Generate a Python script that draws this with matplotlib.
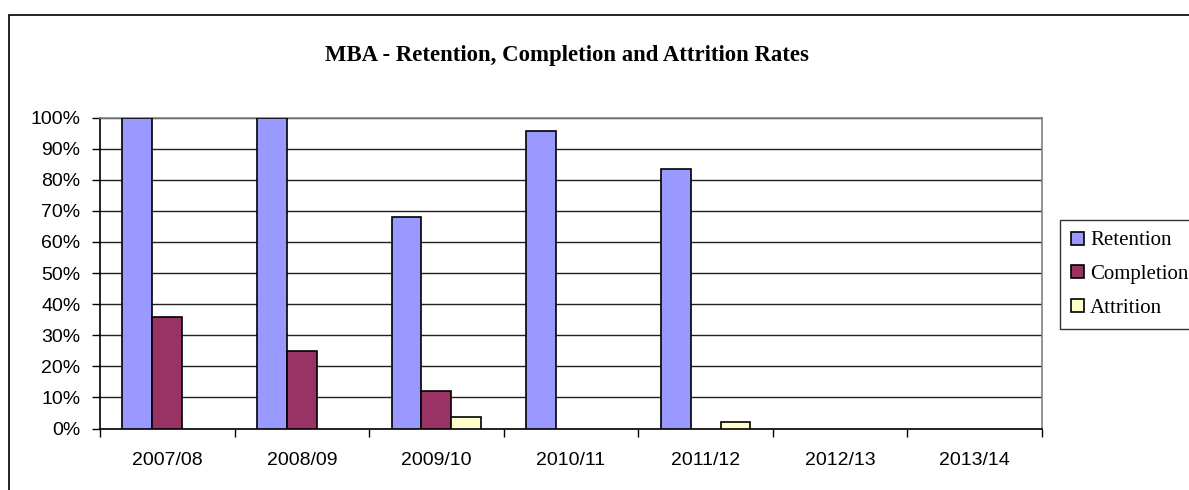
import matplotlib
matplotlib.use("Agg")
import matplotlib.pyplot as plt
import numpy as np
from matplotlib.patches import Rectangle, Patch
from matplotlib.ticker import FixedLocator, PercentFormatter

categories = ["2007/08", "2008/09", "2009/10", "2010/11", "2011/12", "2012/13", "2013/14"]
retention = [100, 100, 68, 95.6, 83.4, 0, 0]
completion = [36, 25, 12, 0, 0, 0, 0]
attrition = [0, 0, 3.7, 0, 2.1, 0, 0]
series_names = ["Retention", "Completion", "Attrition"]
colors = ["#9999FF", "#993366", "#FFFFCC"]
title = "MBA - Retention, Completion and Attrition Rates"

W, H = 1189, 490
fig = plt.figure(figsize=(W / 100, H / 100), dpi=100)

# outer chart frame (extends beyond right/bottom of image)
fig.patches.append(Rectangle((9 / W, -0.1), 1.2, 1 - 15 / H + 0.1, transform=fig.transFigure,
                             fill=False, edgecolor="black", linewidth=1.2, zorder=0))

ax = fig.add_axes([100 / W, 1 - 428.5 / H, 942 / W, (428.5 - 117.5) / H])

x = np.arange(len(categories))
bw = 1 / 4.5
series = [retention, completion, attrition]
for i, (vals, c, name) in enumerate(zip(series, colors, series_names)):
    v = np.array(vals, dtype=float)
    v[v == 0] = np.nan
    ax.bar(x + (i - 1) * bw, v, width=bw, color=c, edgecolor="black", linewidth=1.2,
           label=name, zorder=3)

ax.set_xlim(-0.5, len(categories) - 0.5)
ax.set_ylim(0, 100)
ax.set_yticks(np.arange(0, 101, 10))
ax.yaxis.set_major_formatter(PercentFormatter(decimals=0))
ax.yaxis.grid(True, color="#202020", linewidth=1.0, zorder=1)
ax.set_axisbelow(True)

ax.set_xticks(x)
ax.set_xticklabels(categories)
ax.xaxis.set_minor_locator(FixedLocator(np.arange(-0.5, len(categories), 1.0)))
ax.tick_params(axis="x", which="major", length=0, pad=17)
ax.tick_params(axis="x", which="minor", length=6, width=1, direction="out", color="black")
ax.tick_params(axis="y", length=6, width=1, direction="out", pad=8)

for lab in ax.get_xticklabels() + ax.get_yticklabels():
    lab.set_fontfamily("Liberation Sans")
    lab.set_fontsize(14)

for s in ["left", "bottom"]:
    ax.spines[s].set_color("black")
    ax.spines[s].set_linewidth(1.2)
for s in ["top", "right"]:
    ax.spines[s].set_color("#808080")
    ax.spines[s].set_linewidth(1.2)

fig.text(567 / W, 1 - 55 / H, title, ha="center", va="center",
         fontfamily="Liberation Serif", fontweight="bold", fontsize=16.4)

handles = [Patch(facecolor=c, edgecolor="black", linewidth=1.2) for c in colors]
leg = fig.legend(handles, series_names, loc="upper left",
                 bbox_to_anchor=(1060 / W, 1 - 220 / H),
                 prop={"family": "Liberation Serif", "size": 15},
                 frameon=True, fancybox=False, edgecolor="black",
                 handlelength=0.6, handleheight=0.6, handletextpad=0.3,
                 labelspacing=0.7, borderpad=0.55, borderaxespad=0)
leg.get_frame().set_linewidth(1.0)

fig.savefig("out.png", dpi=100)
